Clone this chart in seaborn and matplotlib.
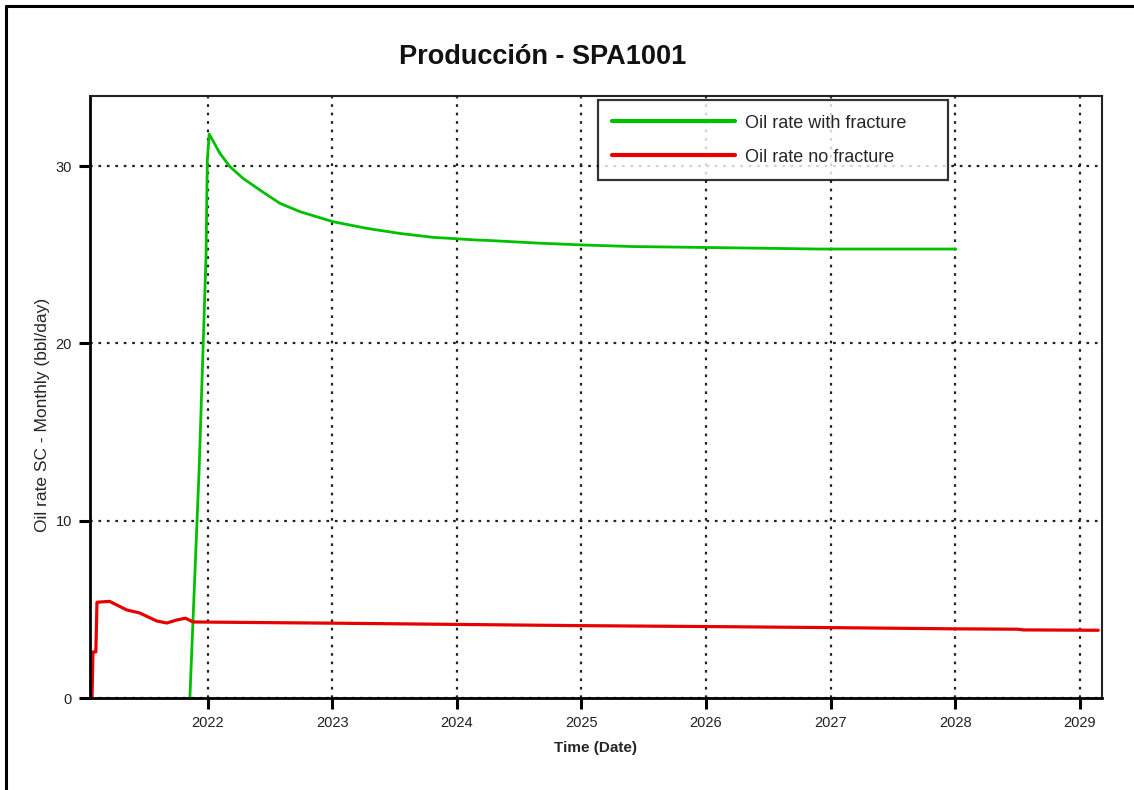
import matplotlib
matplotlib.use("Agg")
import matplotlib.pyplot as plt
import seaborn as sns
import pandas as pd
from matplotlib.lines import Line2D

# ---- data (decimal years, bbl/day) ----
green_t = [2021.855, 2021.93, 2021.985, 2021.995, 2022.010, 2022.096, 2022.176, 2022.283,
           2022.417, 2022.577, 2022.738, 2023.005, 2023.273, 2023.540, 2023.807, 2024.155,
           2024.261, 2024.662, 2025.007, 2025.408, 2026.082, 2026.908, 2028.006]
green_v = [0.0, 13.0, 25.0, 30.3, 31.8, 30.72, 29.97, 29.3,
           28.65, 27.9, 27.43, 26.86, 26.49, 26.2, 25.98, 25.83,
           25.8, 25.65, 25.55, 25.46, 25.4, 25.32, 25.32]

red_t = [2021.069, 2021.077, 2021.10, 2021.109, 2021.21, 2021.35, 2021.45, 2021.59,
         2021.67, 2021.75, 2021.82, 2021.88, 2022.00, 2023.00, 2024.00, 2025.00,
         2026.00, 2027.00, 2028.00, 2028.50, 2028.55, 2029.15]
red_v = [0.0, 2.6, 2.6, 5.4, 5.45, 4.96, 4.8, 4.34,
         4.23, 4.4, 4.5, 4.29, 4.28, 4.22, 4.15, 4.08,
         4.03, 3.97, 3.9, 3.88, 3.84, 3.82]

year_ticks = [2022, 2023, 2024, 2025, 2026, 2027, 2028, 2029]
y_ticks = [0, 10, 20, 30]

labels = ["Oil rate with fracture", "Oil rate no fracture"]
colors = ["#00c000", "#e60000"]

sns.set_style("white")
plt.rcParams['font.family'] = ['Liberation Sans', 'DejaVu Sans']

fig = plt.figure(figsize=(11.34, 7.9), dpi=100)
ax = fig.add_axes([90/1134, 1-698/790, (1102-90)/1134, (698-96)/790])

df_g = pd.DataFrame({"t": green_t, "v": green_v})
df_r = pd.DataFrame({"t": red_t, "v": red_v})
sns.lineplot(data=df_g, x="t", y="v", ax=ax, color=colors[0], lw=2.0,
             estimator=None, sort=False, label=labels[0])
sns.lineplot(data=df_r, x="t", y="v", ax=ax, color=colors[1], lw=2.3,
             estimator=None, sort=False, label=labels[1])

ax.set_xlim(2021.053, 2029.18)
ax.set_ylim(0, 33.95)
ax.set_xticks(year_ticks)
ax.set_xticklabels([str(y) for y in year_ticks])
ax.set_yticks(y_ticks)
ax.grid(True, color="#222222", linestyle=(0, (1.2, 2.6)), linewidth=1.6)
ax.set_axisbelow(True)

for s in ["left", "bottom"]:
    ax.spines[s].set_linewidth(2.0)
    ax.spines[s].set_color("black")
for s in ["top", "right"]:
    ax.spines[s].set_linewidth(1.5)
    ax.spines[s].set_color("#222222")
ax.tick_params(axis="both", direction="out", length=8, width=2.2, color="black",
               labelsize=10.5, labelcolor="#222222", pad=5)
ax.tick_params(left=True, bottom=True)

ax.set_xlabel("Time (Date)", fontsize=11, fontweight="bold", labelpad=8)
ax.set_ylabel("Oil rate SC - Monthly (bbl/day)", fontsize=12.5)
ax.yaxis.set_label_coords(-0.040, 0.47)

fig.text(543/1134, 1-57/790, "Producción - SPA1001", ha="center", va="center",
         fontsize=19.5, fontweight="bold", color="#111111")

leg = ax.legend(loc="upper left", bbox_to_anchor=(0.502, 0.86, 0.3458, 0.133),
                mode="expand", frameon=True,
                fancybox=False, edgecolor="black", fontsize=13, handlelength=6.8,
                handletextpad=0.55, labelspacing=0.95, borderpad=0.8, borderaxespad=0)
leg.get_frame().set_linewidth(1.6)
for lh in leg.get_lines():
    lh.set_linewidth(3)

# outer frame (left and top edges)
fig.add_artist(Line2D([6/1134, 6/1134], [0, 1-6/790], transform=fig.transFigure,
                      color="black", lw=2.2))
fig.add_artist(Line2D([6/1134, 1], [1-6/790, 1-6/790], transform=fig.transFigure,
                      color="black", lw=2.2))

fig.savefig("out.png", dpi=100)
